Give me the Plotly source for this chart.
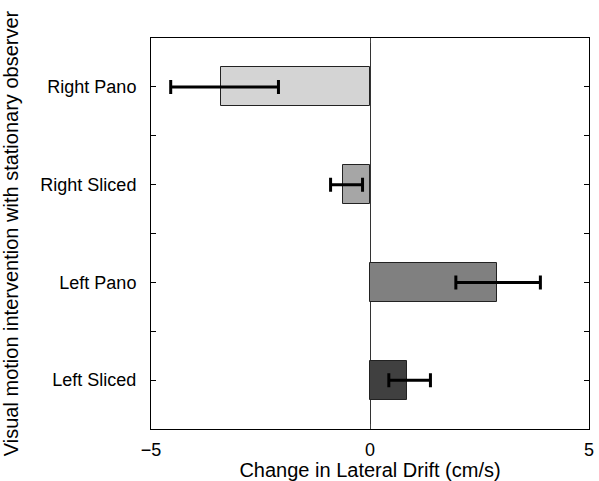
import plotly.graph_objects as go

# Data (bottom to top)
categories = ["Left Sliced", "Left Pano", "Right Sliced", "Right Pano"]
positions = [1, 2, 3, 4]
values = [0.85, 2.89, -0.61, -3.41]
err_low = [0.43, 1.96, -0.90, -4.55]
err_high = [1.38, 3.89, -0.17, -2.09]
bar_colors = ["#404040", "#808080", "#a6a6a6", "#d4d4d4"]
x_ticks = [-5, 0, 5]

plus = [h - v for h, v in zip(err_high, values)]
minus = [v - l for l, v in zip(err_low, values)]

FONT = "Liberation Sans, Arial, Helvetica, sans-serif"

fig = go.Figure()
fig.add_trace(go.Bar(
    x=values, y=positions, orientation="h", width=0.4,
    marker=dict(color=bar_colors, line=dict(color="#222222", width=1)),
    error_x=dict(type="data", symmetric=False, array=plus, arrayminus=minus,
                 color="black", thickness=3, width=7),
    showlegend=False,
))

fig.update_layout(
    width=599, height=481,
    margin=dict(l=151, r=10, t=38, b=52),
    paper_bgcolor="white", plot_bgcolor="white",
    font=dict(family=FONT, size=18, color="black"),
    bargap=0,
)
fig.update_xaxes(
    range=[-5, 5], tickvals=x_ticks, ticks="inside", ticklen=5,
    showline=True, linecolor="black", linewidth=1, mirror="allticks",
    showgrid=False, zeroline=True, zerolinecolor="#333333", zerolinewidth=1,
    automargin=False,
    ticklabelstandoff=4,
    title=dict(text="Change in Lateral Drift (cm/s)", standoff=2, font=dict(size=20)),
    tickfont=dict(size=18),
)
fig.update_yaxes(
    range=[0.5, 4.5], tickvals=positions, ticktext=categories,
    ticks="inside", ticklen=5, tickcolor="black",
    minor=dict(tickvals=[1.5, 2.5, 3.5], ticks="inside", ticklen=5, tickcolor="black"),
    showline=True, linecolor="black", linewidth=1, mirror="allticks",
    showgrid=False, zeroline=False,
    automargin=False,
    ticklabelstandoff=10,
    title=dict(text="Visual motion intervention with stationary observer", standoff=16, font=dict(size=20)),
    tickfont=dict(size=18),
)

fig.write_html("out.html",
               config={"displayModeBar": False},
               post_script="document.body.style.margin='0px';document.body.style.overflow='hidden';")
